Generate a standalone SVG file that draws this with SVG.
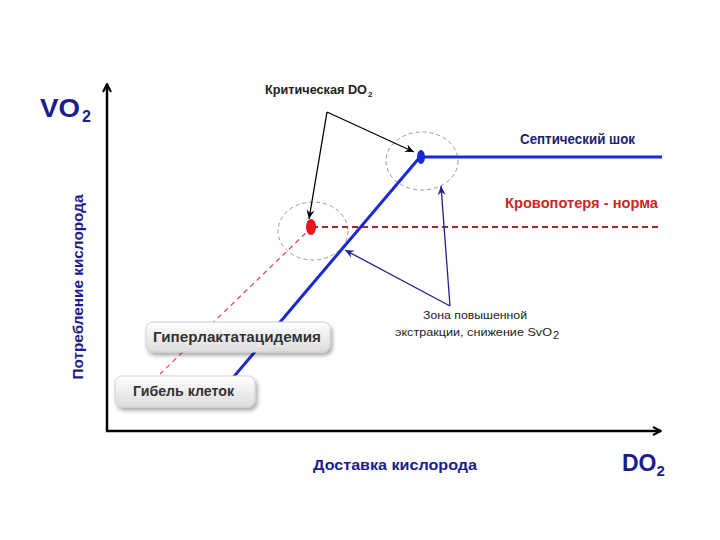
<svg xmlns="http://www.w3.org/2000/svg" width="720" height="540" viewBox="0 0 720 540">
<defs>
<marker id="ah" markerWidth="10" markerHeight="10" refX="9" refY="5" orient="auto" markerUnits="userSpaceOnUse"><path d="M1,1 L9,5 L1,9" fill="none" stroke="#000" stroke-width="2"/></marker>
<marker id="ak" markerWidth="10" markerHeight="10" refX="9" refY="5" orient="auto" markerUnits="userSpaceOnUse"><path d="M0,1 L9,5 L0,9 L3,5 Z" fill="#000"/></marker>
<marker id="ab" markerWidth="10" markerHeight="10" refX="9" refY="5" orient="auto" markerUnits="userSpaceOnUse"><path d="M0,1 L9,5 L0,9 L3,5 Z" fill="#22228a"/></marker>
<linearGradient id="bg" x1="0" y1="0" x2="0" y2="1"><stop offset="0" stop-color="#ffffff"/><stop offset="1" stop-color="#dcdcdc"/></linearGradient>
<filter id="sh" x="-10%" y="-30%" width="130%" height="180%"><feGaussianBlur in="SourceAlpha" stdDeviation="2"/><feOffset dx="2" dy="3"/><feComponentTransfer><feFuncA type="linear" slope="0.35"/></feComponentTransfer><feMerge><feMergeNode/><feMergeNode in="SourceGraphic"/></feMerge></filter>
</defs>
<style>
text{font-family:"Liberation Sans",Arial,sans-serif}
.ax{fill:#1c1c8c;font-weight:bold}
.box{fill:url(#bg);stroke:#d0d0d0;stroke-width:1}
.bt{font-weight:bold;font-size:14px;fill:#333}
.circ{fill:none;stroke:#999;stroke-width:1;stroke-dasharray:4,3}
.sm{font-size:11px;fill:#222}
</style>
<rect width="720" height="540" fill="#fff"/>
<g id="axes">
<line x1="107" y1="431" x2="107" y2="84" stroke="#000" stroke-width="2.5" marker-end="url(#ah)"/>
<line x1="106" y1="431" x2="661" y2="431" stroke="#000" stroke-width="2.5" marker-end="url(#ah)"/>
</g>
<g id="labels">
<text class="ax" x="40" y="117" font-size="26" textLength="40" lengthAdjust="spacingAndGlyphs">VO</text><text class="ax" x="82" y="122" font-size="16">2</text>
<text class="ax" font-size="14" transform="translate(83,287) rotate(-90)" text-anchor="middle" textLength="185" lengthAdjust="spacingAndGlyphs">Потребление кислорода</text>
<text class="ax" x="313" y="470" font-size="14" textLength="164" lengthAdjust="spacingAndGlyphs">Доставка кислорода</text>
<text class="ax" x="622" y="471" font-size="23">DO<tspan font-size="15" dy="5">2</tspan></text>
</g>
<g id="circles">
<ellipse class="circ" cx="422" cy="161" rx="36" ry="29"/>
<ellipse class="circ" cx="313" cy="231" rx="35" ry="29"/>
</g>
<g id="connectors">
<line x1="312" y1="227" x2="160" y2="374" stroke="#e0505a" stroke-width="1.3" stroke-dasharray="5,4"/>
<line x1="312" y1="227" x2="662" y2="227" stroke="#a02828" stroke-width="1.8" stroke-dasharray="6,4"/>
<line x1="214" y1="400" x2="420" y2="157" stroke="#1a2ad0" stroke-width="3"/>
<line x1="420" y1="157" x2="662" y2="157" stroke="#1a2ad0" stroke-width="3"/>
<line x1="327" y1="112" x2="414" y2="152" stroke="#000" stroke-width="1.3" marker-end="url(#ak)"/>
<line x1="327" y1="112" x2="309" y2="219" stroke="#000" stroke-width="1.3" marker-end="url(#ak)"/>
<line x1="450" y1="306" x2="345" y2="250" stroke="#22228a" stroke-width="1.3" marker-end="url(#ab)"/>
<line x1="450" y1="306" x2="441" y2="186" stroke="#22228a" stroke-width="1.3" marker-end="url(#ab)"/>
</g>
<g id="dots">
<ellipse cx="311" cy="227" rx="5" ry="8" fill="#e8141e"/>
<ellipse cx="421" cy="157" rx="4" ry="7" fill="#1a2ad0"/>
</g>
<g id="critical">
<text x="265" y="94" font-size="12" font-weight="bold" fill="#222" textLength="102" lengthAdjust="spacingAndGlyphs">Критическая DO</text><text x="368" y="97" font-size="8" font-weight="bold" fill="#222">2</text>
</g>
<g id="septic"><text x="520" y="144" font-size="14" font-weight="bold" fill="#1c2470" textLength="115" lengthAdjust="spacingAndGlyphs">Септический шок</text></g>
<g id="blood"><text x="505" y="208" font-size="14" font-weight="bold" fill="#c8281e" textLength="153" lengthAdjust="spacingAndGlyphs">Кровопотеря - норма</text></g>
<g id="zone">
<text class="sm" x="423" y="319" textLength="104" lengthAdjust="spacingAndGlyphs">Зона повышенной</text>
<text class="sm" x="395" y="336" textLength="157" lengthAdjust="spacingAndGlyphs">экстракции, снижение  SvO</text><text class="sm" x="553" y="339" font-size="7.5">2</text>
</g>
<g id="hyper">
<rect class="box" x="146" y="322" width="184" height="30" rx="7" filter="url(#sh)"/>
<text class="bt" x="153" y="342" textLength="168" lengthAdjust="spacingAndGlyphs">Гиперлактатацидемия</text>
</g>
<g id="death">
<rect class="box" x="115" y="376" width="140" height="31" rx="7" filter="url(#sh)"/>
<text class="bt" x="133" y="396" textLength="101" lengthAdjust="spacingAndGlyphs">Гибель клеток</text>
</g>
</svg>
